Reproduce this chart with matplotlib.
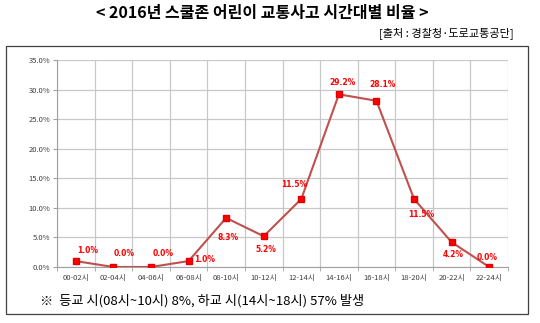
import matplotlib.pyplot as plt
from matplotlib.patches import Rectangle
from matplotlib.ticker import FuncFormatter, MultipleLocator

plt.rcParams['font.family'] = ['Noto Sans CJK KR', 'DejaVu Sans']

hours = ['00-02시', '02-04시', '04-06시', '06-08시', '08-10시', '10-12시',
         '12-14시', '14-16시', '16-18시', '18-20시', '20-22시', '22-24시']
ratio = [1.0, 0.0, 0.0, 1.0, 8.3, 5.2, 11.5, 29.2, 28.1, 11.5, 4.2, 0.0]
# label offsets in pixels (dx, dy)
label_off = [(12, 11), (11, 14), (12, 13), (16, 2), (2, -20), (2, -13),
             (-7, 14), (4, 12), (6, 16), (7, -16), (2, -12), (-2, 9)]

fig = plt.figure(figsize=(5.4, 3.23), dpi=100)
ax = fig.add_axes([57/540, 1-267/323, 451/540, 207/323])

x = range(len(hours))
ax.plot(x, ratio, color='#c0504d', lw=1.5, marker='s', markersize=4.5,
        markerfacecolor='#ff0000', markeredgecolor='#e00000', zorder=3)

for i, v in enumerate(ratio):
    ax.annotate('%.1f%%' % v, (i, v), xytext=label_off[i], textcoords='offset pixels',
                ha='center', va='center', color='#ff0000', fontsize=5.5,
                fontweight='bold', family=['DejaVu Sans'])

ax.set_xlim(-0.5, 11.5)
ax.set_ylim(0, 35)
ax.set_xticks(list(x))
ax.set_xticklabels(hours)
ax.set_xticks([i - 0.5 for i in range(13)], minor=True)
ax.yaxis.set_major_locator(MultipleLocator(5))
ax.yaxis.set_major_formatter(FuncFormatter(lambda v, p: '%.1f%%' % v))
ax.tick_params(axis='x', which='major', length=0, labelsize=5.5, colors='#404040', pad=5)
ax.tick_params(axis='x', which='minor', length=3, color='#a0a0a0')
ax.tick_params(axis='y', length=3, color='#a0a0a0', labelsize=5.5, labelcolor='#404040', pad=2)
ax.grid(True, axis='y', color='#c8c8c8', lw=0.9)
ax.grid(True, axis='x', which='minor', color='#c8c8c8', lw=0.9)
for s in ['top', 'right']:
    ax.spines[s].set_visible(False)
for s in ['left', 'bottom']:
    ax.spines[s].set_color('#a0a0a0')
ax.set_axisbelow(True)

fig.patches.append(Rectangle((6/540, 1-314/323), 522/540, 268/323, transform=fig.transFigure,
                             fill=False, edgecolor='#404040', lw=0.9))

fig.text(0.485, 1-13/323, '< 2016년 스쿨존 어린이 교통사고 시간대별 비율 >', ha='center', va='center',
         fontsize=11.5, fontweight='bold')
fig.text(514/540, 1-33/323, '[출처 : 경찰청·도로교통공단]', ha='right', va='center', fontsize=8)
fig.text(40/540, 1-301/323, '※  등교 시(08시~10시) 8%, 하교 시(14시~18시) 57% 발생', ha='left',
         va='center', fontsize=9.5)

fig.savefig('out.png', dpi=100)
